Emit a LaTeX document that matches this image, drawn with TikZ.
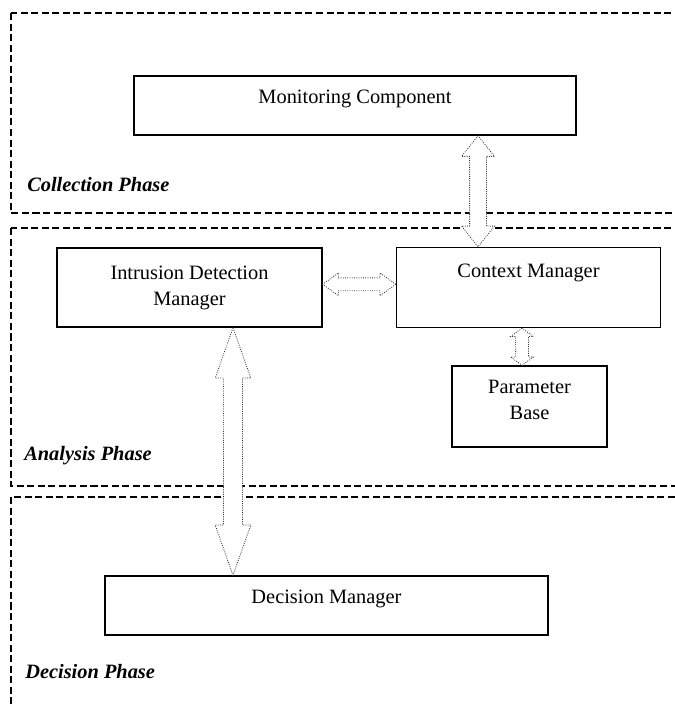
\documentclass[tikz,border=0pt]{standalone}
\usepackage{fontspec}
\setmainfont{Liberation Serif}
\usetikzlibrary{positioning}
\usetikzlibrary{calc}
\usetikzlibrary{shapes.arrows}
\tikzset{
	box/.style={
		draw,
		line width=1pt,
		align=center,
		inner sep=0pt,
		font=\fontsize{14.5}{18.5}\selectfont},
	phase/.style={
		draw,
		line width=0.75pt,
		dash pattern=on 5pt off 2.5pt},
	phase label/.style={
		anchor=base west,
		inner sep=0pt,
		font=\fontsize{14.5}{18.5}\selectfont\bfseries\itshape},
	dblarrow/.style={
		shape=double arrow,
		draw=black!80,
		fill=white,
		densely dotted,
		line width=0.6pt,
		inner xsep=0pt}
}
% hollow double arrow between two points
\newcommand{\blockarrow}[3][]{%
	\path let \p1=(#2), \p2=(#3), \n1={veclen(\x2-\x1,\y2-\y1)} in
		node[dblarrow, minimum height={\n1}, #1] at ($(#2)!0.5!(#3)$) {};}

\begin{document}
\begin{tikzpicture}[x=0.025cm, y=-0.025cm]
	\clip (0,0) rectangle (675,704);
	
	% phases
	\draw[phase] (11,13) rectangle (700,213);
	\draw[phase] (11,228) rectangle (700,486);
	\draw[phase] (11,497) rectangle (700,720);
	\node[phase label] (collect) at (27,191) {Collection Phase};
	\node[phase label] (analyse) at (24,460) {Analysis Phase};
	\node[phase label] (decide) at (25,678) {Decision Phase};
	
	% components
	\node[box, minimum width=11.05cm, minimum height=1.475cm, text depth=0.45cm] (mc) at (355,105.5) {Monitoring Component};
	\node[box, minimum width=6.625cm, minimum height=1.975cm] (idm) at (189.5,287.5) {Intrusion Detection\\Manager};
	\node[box, minimum width=6.6cm, minimum height=2cm, right=1.825cm of idm] (cm) {Context Manager\\[6pt] \mbox{}};
	\node[box, minimum width=3.875cm, minimum height=2.025cm, text depth=0.33cm] (pb) at (529.5,406.5) {Parameter\\Base};
	\node[box, minimum width=11.075cm, minimum height=1.475cm, text depth=0.45cm] (dm) at (326.5,605.5) {Decision Manager};
	
	% links
	\coordinate (upx) at (478,0);
	\coordinate (pbx) at (522,0);
	\coordinate (downx) at (233,0);
	\blockarrow[rotate=90, inner ysep=0.2cm, double arrow head extend=0.2cm, double arrow tip angle=77]{upx |- mc.south}{upx |- cm.north}
	\blockarrow[yshift=0.08cm, inner ysep=0.15cm, double arrow head extend=0.125cm, double arrow tip angle=72]{idm.east}{cm.west}
	\blockarrow[rotate=90, inner ysep=0.15cm, double arrow head extend=0.125cm, double arrow tip angle=108]{pbx |- cm.south}{pbx |- pb.north}
	\blockarrow[rotate=90, inner ysep=0.225cm, double arrow head extend=0.21cm, double arrow tip angle=39]{downx |- idm.south}{downx |- dm.north}
	
\end{tikzpicture}
\end{document}
